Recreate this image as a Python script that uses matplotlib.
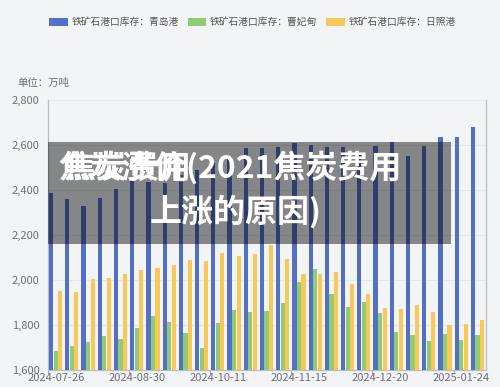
import numpy as np
import matplotlib
matplotlib.use('Agg')
import matplotlib.pyplot as plt
from matplotlib.patches import Patch, Rectangle

plt.rcParams['font.family'] = ['Noto Sans CJK SC', 'DejaVu Sans']

# 数据
dates = ['2024-07-26', '2024-08-02', '2024-08-09', '2024-08-16', '2024-08-23', '2024-08-30',
         '2024-09-06', '2024-09-13', '2024-09-20', '2024-09-27', '2024-10-11', '2024-10-18',
         '2024-10-25', '2024-11-01', '2024-11-08', '2024-11-15', '2024-11-22', '2024-11-29',
         '2024-12-06', '2024-12-13', '2024-12-20', '2024-12-27', '2025-01-03', '2025-01-10',
         '2025-01-17', '2025-01-24', '2025-01-31']
qingdao = [2388, 2359, 2329, 2366, 2403, 2447, 2437, 2430, 2467, 2490, 2520, 2545, 2585, 2585,
           2590, 2607, 2598, 2593, 2593, 2560, 2597, 2612, 2552, 2597, 2637, 2637, 2682]
caofeidian = [1686, 1708, 1726, 1750, 1736, 1788, 1838, 1812, 1766, 1696, 1807, 1867, 1858, 1862,
              1898, 1989, 2048, 1936, 1881, 1904, 1855, 1770, 1755, 1730, 1759, 1734, 1756]
rizhao = [1950, 1948, 2003, 2009, 2025, 2046, 2052, 2065, 2090, 2086, 2122, 2108, 2115, 2154,
          2093, 2025, 2025, 2037, 1981, 1938, 1874, 1869, 1889, 1860, 1800, 1806, 1823]
names = ['铁矿石港口库存：青岛港', '铁矿石港口库存：曹妃甸', '铁矿石港口库存：日照港']
colors = ['#5470c6', '#91cc75', '#fac858']

bg = '#f3f4f6'
fig = plt.figure(figsize=(5, 3.87), dpi=100, facecolor=bg)
ax = fig.add_axes([0.096, 0.0439, 0.876, 0.6977], facecolor=bg)

x = np.arange(len(dates))
w = 0.26
for k, (vals, c) in enumerate(zip([qingdao, caofeidian, rizhao], colors)):
    ax.bar(x + (k - 1) * 0.28 - 0.03, np.array(vals) - 1600, bottom=1600, width=w, color=c, zorder=3)

ax.set_xlim(-0.5, len(dates) - 0.5)
ax.set_ylim(1600, 2800)
ax.set_yticks(range(1600, 2801, 200))
ax.set_yticklabels(['{:,}'.format(v) for v in range(1600, 2801, 200)])
ax.yaxis.grid(True, color='#e3e6ec', lw=0.8, zorder=0)
ax.tick_params(axis='y', length=0, labelsize=8, labelcolor='#6e7079', pad=6)

major = list(range(0, len(dates), 5))
ax.set_xticks(major)
ax.set_xticklabels([dates[i] for i in major])
ax.set_xticks([i - 0.5 for i in major], minor=True)
ax.tick_params(axis='x', which='major', length=0, labelsize=8, labelcolor='#6e7079', pad=2)
ax.tick_params(axis='x', which='minor', length=3, color='#8a8f99')

for s in ['top']:
    ax.spines[s].set_visible(False)
for s in ['left', 'right', 'bottom']:
    ax.spines[s].set_color('#b8bcc4')
    ax.spines[s].set_linewidth(0.9)

fig.text(17 / 500, 1 - 83 / 387, '单位：万吨', fontsize=7.5, color='#6e7079', va='center')

handles = [Patch(facecolor=c, edgecolor='none') for c in colors]
fig.legend(handles, names, loc='center', bbox_to_anchor=(0.505, 1 - 22 / 387), ncol=3,
           frameon=False, fontsize=7, labelcolor='#555555', handlelength=1.9, handleheight=0.9,
           handletextpad=0.4, columnspacing=0.9)

# 遮挡标题
fig.add_artist(Rectangle((48 / 500, 1 - 244 / 387), 403 / 500, 102 / 387,
                         transform=fig.transFigure, facecolor='black', alpha=0.45,
                         edgecolor='none', zorder=10))
fig.text(402 / 500, 1 - 168 / 387, '焦炭涨价(2021焦炭费用', fontsize=23, fontweight='heavy',
         color='white', ha='right', va='center', zorder=11)
fig.text(63 / 500, 1 - 168 / 387, '焦炭费用', fontsize=23, fontweight='heavy',
         color='white', ha='left', va='center', zorder=11)
fig.text(150 / 500, 1 - 212 / 387, '上涨的原因)', fontsize=23, fontweight='heavy',
         color='white', ha='left', va='center', zorder=11)

fig.savefig('out.png', dpi=100, facecolor=bg)
